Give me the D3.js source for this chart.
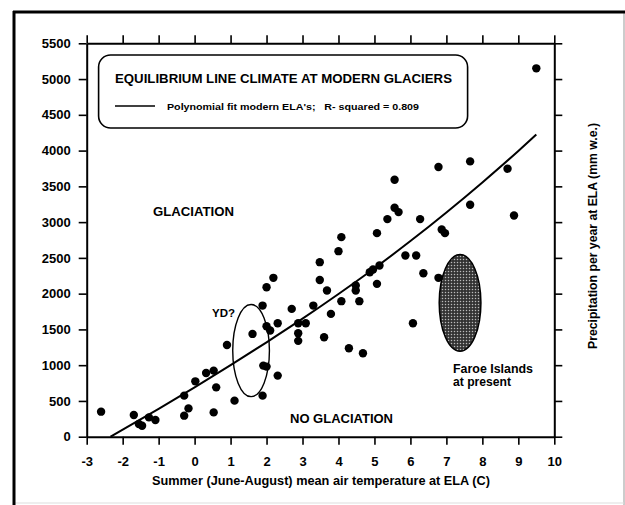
<!DOCTYPE html>
<html>
<head>
<meta charset="utf-8">
<script src="https://cdn.jsdelivr.net/npm/d3@7"></script>
<style>
  body { margin: 0; background: #fff; }
  svg { display: block; font-family: "Liberation Sans", Arial, sans-serif; }
  .axis path { stroke: #000; stroke-width: 2; }
  .axis line { stroke: #000; stroke-width: 1.6; }
  .axis text { font-size: 13px; font-weight: bold; fill: #000; font-family: "Liberation Sans", Arial, sans-serif; }
  .lbl { font-weight: bold; fill: #000; }
</style>
</head>
<body>
<div id="chart"></div>
<script>
// modern glacier ELA points
const tempC = [
  -2.6, -1.69, -1.55, -1.46, -1.27, -1.09, -0.29, -0.17, -0.29, 0.02,
  0.32, 0.53, 0.60, 0.53, 0.90, 1.11, 1.61, 1.89, 2.0, 2.10,
  1.91, 2.0, 1.89, 2.31, 2.31, 2.70, 2.88, 3.09, 2.88, 2.88,
  3.30, 3.60, 2.0, 2.19, 3.48, 3.48, 3.68, 3.79, 4.0, 4.08,
  4.08, 4.29, 4.48, 4.48, 4.58, 4.68, 4.87, 4.96, 5.14, 5.07,
  5.07, 5.36, 5.56, 5.56, 5.67, 5.86, 6.16, 6.27, 6.36, 6.07,
  6.78, 6.78, 6.87, 6.96, 7.66, 7.66, 8.70, 8.88, 9.50
];
const precip = [
  350, 304, 178, 154, 270, 234, 574, 396, 294, 774,
  891, 924, 690, 340, 1283, 504, 1437, 1833, 1544, 1484,
  994, 980, 574, 1586, 854, 1787, 1586, 1586, 1446, 1340,
  1833, 1390, 2090, 2221, 2440, 2190, 2043, 1717, 2594, 2790,
  1895, 1236, 2113, 2043, 1895, 1166, 2300, 2337, 2393, 2846,
  2137, 3042, 3593, 3200, 3140, 2533, 2533, 3042, 2286, 1586,
  3770, 2221, 2897, 2846, 3849, 3243, 3747, 3093, 5150
];

// polynomial fit line, sampled from the figure
const fitTemp = [-2.34, -1, 0, 1, 2, 3, 4, 5, 6, 7, 8, 9, 9.5];
const fitPrecip = [0, 390, 690, 1000, 1320, 1650, 1995, 2355, 2735, 3135, 3555, 3995, 4225];

const xTicks = [-3, -2, -1, 0, 1, 2, 3, 4, 5, 6, 7, 8, 9, 10];
const yTicks = [0, 500, 1000, 1500, 2000, 2500, 3000, 3500, 4000, 4500, 5000, 5500];

// ellipses: [centre temp, centre precip, half width (C), half height (mm)]
const ydZone = [1.57, 1204, 0.51, 644];
const faroeZone = [7.38, 1871, 0.58, 676];

const W = 625, H = 505;
const svg = d3.select("#chart").append("svg")
  .attr("width", W).attr("height", H);

// outer frame of the scanned figure
svg.append("line").attr("x1", 624).attr("y1", 12).attr("x2", 624).attr("y2", 505)
  .attr("stroke", "#999").attr("stroke-width", 1);
svg.append("line").attr("x1", 13).attr("y1", 503).attr("x2", 624).attr("y2", 503)
  .attr("stroke", "#ddd").attr("stroke-width", 1);
svg.append("line").attr("x1", 14).attr("y1", 11).attr("x2", 14).attr("y2", 505)
  .attr("stroke", "#000").attr("stroke-width", 3);
svg.append("line").attr("x1", 13).attr("y1", 12).attr("x2", 625).attr("y2", 12)
  .attr("stroke", "#000").attr("stroke-width", 3);

const x = d3.scaleLinear().domain([-3, 10]).range([86.7, 554.3]);
const y = d3.scaleLinear().domain([0, 5500]).range([436.7, 43.3]);

const fmt = d => d < 0 ? "-" + Math.abs(d) : String(d);

svg.append("g").attr("class", "axis")
  .attr("transform", `translate(0,${y(0)})`)
  .call(d3.axisBottom(x).tickValues(xTicks).tickFormat(fmt).tickSize(8).tickSizeOuter(0).tickPadding(12));
svg.append("g").attr("class", "axis")
  .attr("transform", `translate(0,${y(5500)})`)
  .call(d3.axisTop(x).tickValues(xTicks).tickFormat("").tickSize(8).tickSizeOuter(0));
svg.append("g").attr("class", "axis")
  .attr("transform", `translate(${x(-3)},0)`)
  .call(d3.axisLeft(y).tickValues(yTicks).tickFormat(fmt).tickSize(8).tickSizeOuter(0).tickPadding(8));
svg.append("g").attr("class", "axis")
  .attr("transform", `translate(${x(10)},0)`)
  .call(d3.axisRight(y).tickValues(yTicks).tickFormat("").tickSize(8).tickSizeOuter(0));

// axis titles
svg.append("text").attr("class", "lbl")
  .attr("x", 152).attr("y", 485)
  .attr("font-size", 12)
  .attr("textLength", 338).attr("lengthAdjust", "spacingAndGlyphs")
  .text("Summer (June-August) mean air temperature at ELA  (C)");
svg.append("text").attr("class", "lbl")
  .attr("transform", "translate(597,236) rotate(-90)")
  .attr("text-anchor", "middle")
  .attr("font-size", 12)
  .attr("textLength", 226).attr("lengthAdjust", "spacingAndGlyphs")
  .text("Precipitation per year at ELA  (mm w.e.)");

// legend box
svg.append("rect")
  .attr("x", 98.6).attr("y", 55).attr("width", 369).attr("height", 73)
  .attr("rx", 12).attr("ry", 12)
  .attr("fill", "#fff").attr("stroke", "#000").attr("stroke-width", 1.6);
svg.append("text").attr("class", "lbl")
  .attr("x", 115).attr("y", 83).attr("font-size", 12.5)
  .attr("textLength", 337).attr("lengthAdjust", "spacingAndGlyphs")
  .text("EQUILIBRIUM LINE CLIMATE AT MODERN GLACIERS");
svg.append("line").attr("x1", 115).attr("x2", 155).attr("y1", 106).attr("y2", 106)
  .attr("stroke", "#000").attr("stroke-width", 1.6);
svg.append("text").attr("class", "lbl")
  .attr("x", 167).attr("y", 109.5).attr("font-size", 9.5)
  .attr("textLength", 252).attr("lengthAdjust", "spacingAndGlyphs")
  .attr("xml:space", "preserve")
  .text("Polynomial fit modern ELA's;   R- squared = 0.809");

// Faroe Islands shaded ellipse
const defs = svg.append("defs");
const pat = defs.append("pattern").attr("id", "dots")
  .attr("patternUnits", "userSpaceOnUse").attr("width", 3).attr("height", 3);
pat.append("rect").attr("width", 3).attr("height", 3).attr("fill", "#333");
pat.append("circle").attr("cx", 1.5).attr("cy", 1.5).attr("r", 0.75).attr("fill", "#bbb");

svg.append("ellipse")
  .attr("cx", x(faroeZone[0])).attr("cy", y(faroeZone[1]))
  .attr("rx", x(faroeZone[0] + faroeZone[2]) - x(faroeZone[0]))
  .attr("ry", y(faroeZone[1]) - y(faroeZone[1] + faroeZone[3]))
  .attr("fill", "url(#dots)").attr("stroke", "#000").attr("stroke-width", 1.5);

// YD outline ellipse
svg.append("ellipse")
  .attr("cx", x(ydZone[0])).attr("cy", y(ydZone[1]))
  .attr("rx", x(ydZone[0] + ydZone[2]) - x(ydZone[0]))
  .attr("ry", y(ydZone[1]) - y(ydZone[1] + ydZone[3]))
  .attr("fill", "none").attr("stroke", "#000").attr("stroke-width", 1.4);

// fit line
const line = d3.line().x(d => x(d[0])).y(d => y(d[1])).curve(d3.curveMonotoneX);
svg.append("path")
  .datum(fitTemp.map((t, i) => [t, fitPrecip[i]]))
  .attr("d", line)
  .attr("fill", "none").attr("stroke", "#000").attr("stroke-width", 2);

// points
svg.append("g").selectAll("circle")
  .data(tempC.map((t, i) => [t, precip[i]]))
  .enter().append("circle")
  .attr("cx", d => x(d[0])).attr("cy", d => y(d[1]))
  .attr("r", 4.2).attr("fill", "#000");

// annotations
svg.append("text").attr("class", "lbl").attr("x", 153).attr("y", 216)
  .attr("font-size", 13).attr("textLength", 81).attr("lengthAdjust", "spacingAndGlyphs")
  .text("GLACIATION");
svg.append("text").attr("class", "lbl").attr("x", 290).attr("y", 423)
  .attr("font-size", 13).attr("textLength", 103).attr("lengthAdjust", "spacingAndGlyphs")
  .text("NO GLACIATION");
svg.append("text").attr("class", "lbl").attr("x", 212).attr("y", 317)
  .attr("font-size", 11.5).attr("textLength", 23).attr("lengthAdjust", "spacingAndGlyphs")
  .text("YD?");
svg.append("text").attr("class", "lbl").attr("x", 453).attr("y", 373)
  .attr("font-size", 12).attr("textLength", 80).attr("lengthAdjust", "spacingAndGlyphs")
  .text("Faroe Islands");
svg.append("text").attr("class", "lbl").attr("x", 453).attr("y", 386)
  .attr("font-size", 12).attr("textLength", 58).attr("lengthAdjust", "spacingAndGlyphs")
  .text("at present");
</script>
</body>
</html>
